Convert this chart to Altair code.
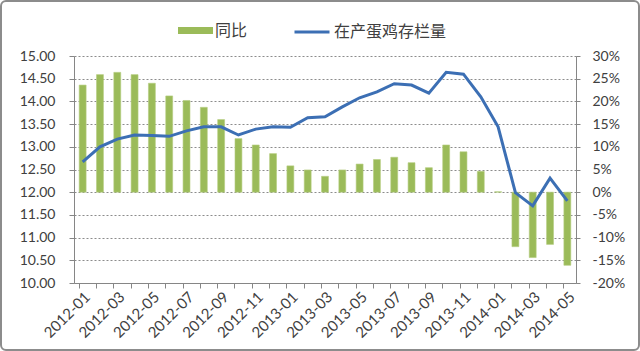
import altair as alt
import pandas as pd

months = ["2012-01", "2012-02", "2012-03", "2012-04", "2012-05", "2012-06",
          "2012-07", "2012-08", "2012-09", "2012-10", "2012-11", "2012-12",
          "2013-01", "2013-02", "2013-03", "2013-04", "2013-05", "2013-06",
          "2013-07", "2013-08", "2013-09", "2013-10", "2013-11", "2013-12",
          "2014-01", "2014-02", "2014-03", "2014-04", "2014-05"]
yoy_pct = [23.6, 25.9, 26.4, 25.9, 24.0, 21.2, 20.2, 18.7, 16.0, 11.8,
           10.4, 8.5, 5.8, 4.9, 3.5, 4.9, 6.2, 7.2, 7.7, 6.5,
           5.4, 10.4, 8.9, 4.6, 0.1, -12.0, -14.4, -11.5, -16.1]
stock = [12.67, 13.00, 13.17, 13.26, 13.25, 13.23, 13.35, 13.44, 13.44, 13.26,
         13.39, 13.44, 13.43, 13.64, 13.66, 13.88, 14.08, 14.21, 14.39, 14.36,
         14.18, 14.64, 14.60, 14.10, 13.44, 11.99, 11.70, 12.31, 11.81]
left_ticks = [10.0, 10.5, 11.0, 11.5, 12.0, 12.5, 13.0, 13.5, 14.0, 14.5, 15.0]
right_ticks = [-0.20, -0.15, -0.10, -0.05, 0.0, 0.05, 0.10, 0.15, 0.20, 0.25, 0.30]
bar_name = "同比"
line_name = "在产蛋鸡存栏量"

GREEN = "#9BBB59"
BLUE = "#3C6FB4"
AXIS_GRAY = "#868686"
TEXT = "#404040"
NUM_FONT = "Lato"
CJK_FONT = "Noto Sans CJK SC"

df = pd.DataFrame({"month": months,
                   "yoy": [v / 100 for v in yoy_pct],
                   "stock": stock})

x_scale = alt.Scale(paddingInner=0.6, paddingOuter=0.3)

x_tick_axis = alt.Axis(orient="bottom", labels=False, ticks=True, bandPosition=0,
                       tickSize=5, tickColor=AXIS_GRAY, domain=True,
                       domainColor=AXIS_GRAY, grid=False, title=None)
x_label_axis = alt.Axis(orient="bottom", labels=True, ticks=False, domain=False,
                        grid=False, title=None, labelAngle=315, labelAlign="right",
                        labelBaseline="top", labelPadding=6,
                        labelExpr="toNumber(slice(datum.label, 5)) % 2 == 1 ? datum.label : ''",
                        labelFont=NUM_FONT, labelFontSize=15, labelColor=TEXT,
                        labelOverlap=False)

bars = alt.Chart(df).transform_calculate(
    series=f"'{bar_name}'"
).mark_bar(stroke="#B5CC80", strokeWidth=0.6).encode(
    x=alt.X("month:O", sort=months, scale=x_scale, axis=x_tick_axis),
    y=alt.Y("yoy:Q",
            scale=alt.Scale(domain=[-0.2, 0.3], nice=False, zero=False),
            axis=alt.Axis(orient="right", values=right_ticks, title=None,
                          labelExpr="round(datum.value * 100) + '%'",
                          grid=False, domainColor=AXIS_GRAY, tickColor=AXIS_GRAY,
                          tickSize=4, labelPadding=12, labelFont=NUM_FONT,
                          labelFontSize=14, labelColor=TEXT)),
    fill=alt.Fill("series:N", scale=alt.Scale(domain=[bar_name], range=[GREEN]),
                  legend=alt.Legend(title=None, orient="none", legendX=104, legendY=-43,
                                    padding=0,
                                    symbolType="M-1,-0.2L1,-0.2L1,0.2L-1,0.2Z",
                                    symbolSize=1225, symbolStrokeWidth=0,
                                    labelOffset=2, labelFont=CJK_FONT,
                                    labelFontSize=16, labelColor=TEXT)),
)

line = alt.Chart(df).transform_calculate(
    series=f"'{line_name}'"
).mark_line(strokeWidth=3).encode(
    x=alt.X("month:O", sort=months, scale=x_scale, axis=x_label_axis),
    y=alt.Y("stock:Q",
            scale=alt.Scale(domain=[10, 15], nice=False, zero=False),
            axis=alt.Axis(orient="left", values=left_ticks, format=".2f", title=None,
                          grid=True, gridDash=[2, 2], gridColor="#8C8C8C",
                          gridWidth=1, domainColor=AXIS_GRAY, tickColor=AXIS_GRAY,
                          tickSize=5, labelPadding=14, labelFont=NUM_FONT,
                          labelFontSize=14, labelColor=TEXT)),
    stroke=alt.Stroke("series:N", scale=alt.Scale(domain=[line_name], range=[BLUE]),
                      legend=alt.Legend(title=None, orient="none", legendX=219, legendY=-43,
                                        padding=0, symbolType="stroke",
                                        symbolSize=1225, symbolStrokeWidth=3,
                                        labelOffset=3, labelFont=CJK_FONT,
                                        labelFontSize=16, labelColor=TEXT)),
)

border = alt.Chart(pd.DataFrame({"k": [0]})).mark_rect(
    fill="white", fillOpacity=0, stroke="#8C8C8C", strokeWidth=2, cornerRadius=5
).encode(x=alt.value(-73), x2=alt.value(565), y=alt.value(-55), y2=alt.value(294))

chart = alt.layer(bars, line, border).resolve_scale(
    y="independent"
).resolve_axis(
    x="independent"
).properties(
    width=502, height=227,
    autosize=alt.AutoSizeParams(type="none"),
    padding={"left": 74, "top": 56, "right": 64, "bottom": 68},
    background="white",
).configure_view(stroke="transparent")

chart.save("out.html", embed_options={"renderer": "svg", "actions": False})
